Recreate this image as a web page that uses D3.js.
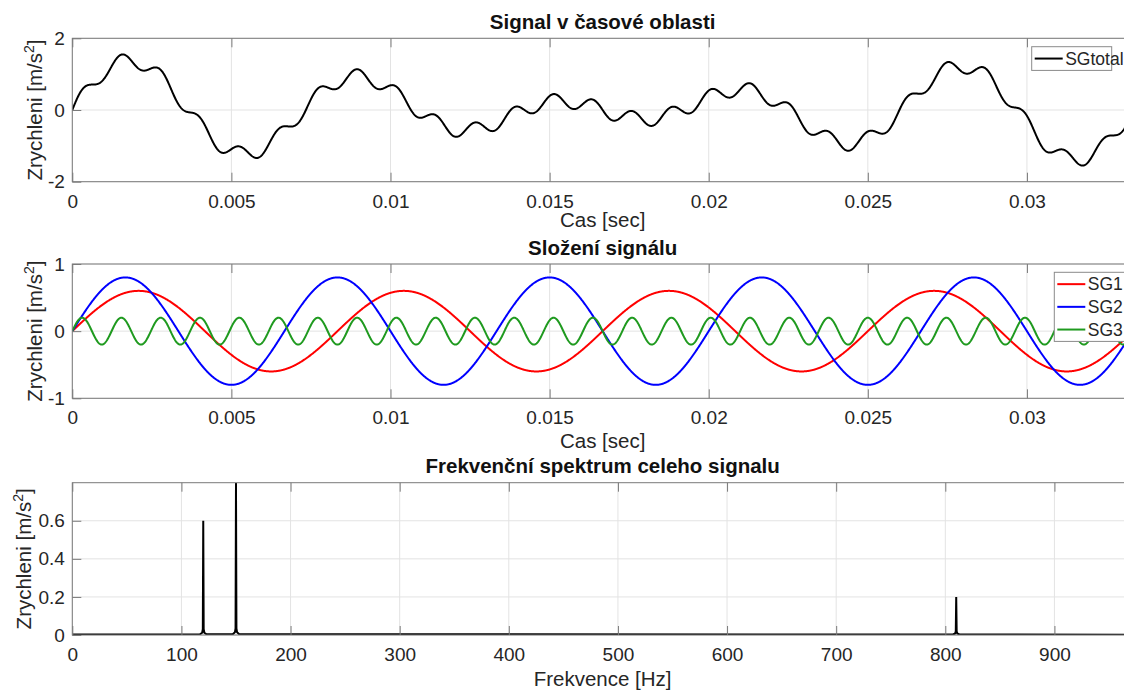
<!DOCTYPE html>
<html>
<head>
<meta charset="utf-8">
<script src="https://cdn.jsdelivr.net/npm/d3@7"></script>
<style>
  body { margin: 0; background: #fff; }
  svg { display: block; font-family: "Liberation Sans", Arial, sans-serif; }
</style>
</head>
<body>
<div id="chart"></div>
<script>
const SG_NAMES = ["SG1", "SG2", "SG3"];
const SG_FREQ = [120, 150, 810];   // Hz
const SG_AMP = [0.6, 0.8, 0.2];    // m/s^2
const T_END = 1 / 30;              // sec
const N_SAMPLES = 3000;

const TIME_TICKS = [0, 0.005, 0.01, 0.015, 0.02, 0.025, 0.03];
const FREQ_TICKS = [0, 100, 200, 300, 400, 500, 600, 700, 800, 900];

// spectrum line points (Hz, amplitude)
const SPEC_HZ = [0, 117, 119, 119.6, 120, 120.4, 121, 123, 147, 149, 149.6, 150, 150.4, 151, 153,
  807, 809, 809.6, 810, 810.4, 811, 813, 972];
const SPEC_AMP = [0.002, 0.004, 0.012, 0.03, 0.6, 0.03, 0.012, 0.004, 0.004, 0.014, 0.035, 0.8, 0.035, 0.014, 0.004,
  0.003, 0.008, 0.02, 0.2, 0.02, 0.008, 0.003, 0.001];

const SG_COLORS = ["#ff0000", "#0000ff", "#1f9a1f"];

const WIDTH = 1124;
const HEIGHT = 691;
const PLOT_LEFT = 72.3;
const PLOT_RIGHT = 1133;

const TICK_COLOR = "#7a7a7a";
const TEXT_COLOR = "#262626";
const GRID_COLOR = "#e3e3e3";

const svg = d3.select("#chart")
  .append("svg")
  .attr("width", WIDTH)
  .attr("height", HEIGHT)
  .style("overflow", "hidden");

// time samples
const T = d3.range(N_SAMPLES + 1).map((i) => i * T_END / N_SAMPLES);
const SG = SG_FREQ.map((f, k) => T.map((t) => SG_AMP[k] * Math.sin(2 * Math.PI * f * t)));
const SG_TOTAL = T.map((t, i) => SG[0][i] + SG[1][i] + SG[2][i]);

function drawPanel(cfg, idx) {
  const x = d3.scaleLinear().domain(cfg.xDomain).range([PLOT_LEFT, PLOT_RIGHT]);
  const y = d3.scaleLinear().domain(cfg.yDomain).range([cfg.bottom, cfg.top]);
  const g = svg.append("g");

  // grid
  g.selectAll(".vgrid")
    .data(cfg.xTicks)
    .enter()
    .append("line")
    .attr("x1", (d) => x(d)).attr("x2", (d) => x(d))
    .attr("y1", cfg.top).attr("y2", cfg.bottom)
    .attr("stroke", GRID_COLOR);
  g.selectAll(".hgrid")
    .data(cfg.yTicks)
    .enter()
    .append("line")
    .attr("x1", PLOT_LEFT).attr("x2", PLOT_RIGHT)
    .attr("y1", (d) => y(d)).attr("y2", (d) => y(d))
    .attr("stroke", GRID_COLOR);

  // clip for data
  svg.append("clipPath")
    .attr("id", "clip" + idx)
    .append("rect")
    .attr("x", PLOT_LEFT).attr("y", cfg.top)
    .attr("width", PLOT_RIGHT - PLOT_LEFT)
    .attr("height", cfg.bottom - cfg.top);

  const data = g.append("g").attr("clip-path", "url(#clip" + idx + ")");

  // axes (ticks point inwards, like matlab)
  g.append("g")
    .attr("transform", "translate(0," + cfg.bottom + ")")
    .call(d3.axisBottom(x).tickValues(cfg.xTicks).tickSizeInner(-9).tickSizeOuter(0)
      .tickPadding(12.5).tickFormat(cfg.xFormat));
  g.append("g")
    .attr("transform", "translate(0," + cfg.top + ")")
    .call(d3.axisTop(x).tickValues(cfg.xTicks).tickSizeInner(-9).tickSizeOuter(0).tickFormat(""));
  g.append("g")
    .attr("transform", "translate(" + PLOT_LEFT + ",0)")
    .call(d3.axisLeft(y).tickValues(cfg.yTicks).tickSizeInner(-9).tickSizeOuter(0)
      .tickPadding(7.5).tickFormat(cfg.yFormat));
  g.append("g")
    .attr("transform", "translate(" + PLOT_RIGHT + ",0)")
    .call(d3.axisRight(y).tickValues(cfg.yTicks).tickSizeInner(-9).tickSizeOuter(0).tickFormat(""));

  g.selectAll(".domain").remove();
  g.selectAll(".tick line").attr("stroke", TICK_COLOR);
  g.selectAll(".tick text")
    .attr("fill", TEXT_COLOR)
    .attr("font-size", "19px")
    .attr("font-family", "\"Liberation Sans\", Arial, sans-serif");

  // box
  g.append("rect")
    .attr("x", PLOT_LEFT).attr("y", cfg.top)
    .attr("width", PLOT_RIGHT - PLOT_LEFT)
    .attr("height", cfg.bottom - cfg.top)
    .attr("fill", "none")
    .attr("stroke", TICK_COLOR);

  const midX = (PLOT_LEFT + PLOT_RIGHT) / 2;

  // title
  g.append("text")
    .attr("x", midX).attr("y", cfg.top - 9.3)
    .attr("text-anchor", "middle")
    .attr("font-size", "20.5px")
    .attr("font-weight", "bold")
    .attr("fill", "#111")
    .text(cfg.title);

  // x label
  g.append("text")
    .attr("x", midX).attr("y", cfg.bottom + cfg.xLabelGap)
    .attr("text-anchor", "middle")
    .attr("font-size", "20.5px")
    .attr("fill", TEXT_COLOR)
    .text(cfg.xLabel);

  // y label with superscript
  const yl = g.append("text")
    .attr("transform", "translate(" + cfg.yLabelX + "," + (cfg.top + cfg.bottom) / 2 + ") rotate(-90)")
    .attr("text-anchor", "middle")
    .attr("font-size", "20.5px")
    .attr("fill", TEXT_COLOR);
  yl.append("tspan").text("Zrychleni [m/s");
  yl.append("tspan").attr("font-size", "14px").attr("dy", "-8").text("2");
  yl.append("tspan").attr("dy", "8").text("]");

  return { x, y, data, g };
}

function drawLegend(left, top, names, colors) {
  const rowH = 22.7;
  const lg = svg.append("g");
  lg.append("rect")
    .attr("x", left).attr("y", top)
    .attr("width", 80)
    .attr("height", names.length * rowH + 1)
    .attr("fill", "#fff")
    .attr("stroke", "#8a8a8a");
  names.forEach((n, i) => {
    const cy = top + rowH / 2 + 0.5 + i * rowH;
    lg.append("line")
      .attr("x1", left + 3).attr("x2", left + 31)
      .attr("y1", cy).attr("y2", cy)
      .attr("stroke", colors[i])
      .attr("stroke-width", 2);
    lg.append("text")
      .attr("x", left + 33.5).attr("y", cy + 6)
      .attr("font-size", "17.5px")
      .attr("fill", TEXT_COLOR)
      .text(n);
  });
}

const timeFormat = (d) => String(+d.toFixed(3));

// panel 1: total signal
const p1 = drawPanel({
  top: 38.3, bottom: 181.7,
  xDomain: [0, T_END], yDomain: [-2, 2],
  xTicks: TIME_TICKS, yTicks: [-2, 0, 2],
  xFormat: timeFormat, yFormat: (d) => String(d),
  title: "Signal v časové oblasti", xLabel: "Cas [sec]",
  xLabelGap: 45, yLabelX: 42
}, 1);

p1.data.append("path")
  .datum(SG_TOTAL)
  .attr("fill", "none")
  .attr("stroke", "#000")
  .attr("stroke-width", 2)
  .attr("d", d3.line().x((d, i) => p1.x(T[i])).y((d) => p1.y(d)));

drawLegend(1031.7, 46.7, ["SGtotal"], ["#000"]);

// panel 2: components
const p2 = drawPanel({
  top: 264, bottom: 398.3,
  xDomain: [0, T_END], yDomain: [-1, 1],
  xTicks: TIME_TICKS, yTicks: [-1, 0, 1],
  xFormat: timeFormat, yFormat: (d) => String(d),
  title: "Složení signálu", xLabel: "Cas [sec]",
  xLabelGap: 50, yLabelX: 42
}, 2);

SG.forEach((series, k) => {
  p2.data.append("path")
    .datum(series)
    .attr("fill", "none")
    .attr("stroke", SG_COLORS[k])
    .attr("stroke-width", 2)
    .attr("d", d3.line().x((d, i) => p2.x(T[i])).y((d) => p2.y(d)));
});

drawLegend(1054.3, 272.3, SG_NAMES, SG_COLORS);

// panel 3: spectrum
const p3 = drawPanel({
  top: 482.7, bottom: 635,
  xDomain: [0, 972], yDomain: [0, 0.8],
  xTicks: FREQ_TICKS, yTicks: [0, 0.2, 0.4, 0.6],
  xFormat: (d) => String(d), yFormat: (d) => String(d),
  title: "Frekvenční spektrum celeho signalu", xLabel: "Frekvence [Hz]",
  xLabelGap: 51, yLabelX: 31
}, 3);

p3.data.append("path")
  .datum(SPEC_HZ)
  .attr("fill", "none")
  .attr("stroke", "#000")
  .attr("stroke-width", 2)
  .attr("d", d3.line().x((d) => p3.x(d)).y((d, i) => p3.y(SPEC_AMP[i])));
</script>
</body>
</html>
